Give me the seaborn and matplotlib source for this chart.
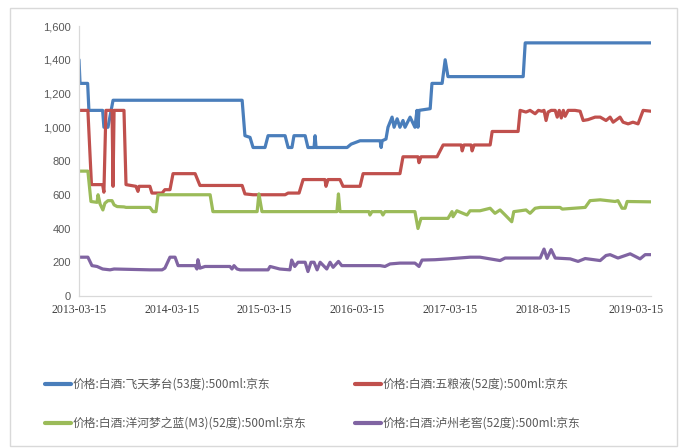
import matplotlib
matplotlib.use("Agg")
import matplotlib.pyplot as plt
import matplotlib.patches as mpatches
import seaborn as sns
import pandas as pd

# ---- data ----
maotai_dates = ["2013-03-15","2013-03-19","2013-04-18","2013-04-23","2013-06-16","2013-06-21","2013-07-07",
    "2013-07-27","2014-12-17","2014-12-28","2015-01-17","2015-01-29","2015-03-17","2015-03-29","2015-06-04",
    "2015-06-16","2015-07-01","2015-07-09","2015-08-22","2015-09-02","2015-09-26","2015-09-30","2015-10-04",
    "2016-02-03","2016-02-19","2016-03-25","2016-06-12","2016-06-16","2016-06-20","2016-07-05","2016-07-13",
    "2016-07-29","2016-08-06","2016-08-18","2016-08-29","2016-09-10","2016-09-18","2016-10-08","2016-10-27",
    "2016-11-04","2016-11-08","2016-11-12","2016-12-26","2017-01-02","2017-02-11","2017-02-23","2017-03-06",
    "2017-12-27","2018-01-04","2019-05-14"]
maotai_vals = [1400,1260,1260,1100,1100,1000,1000,
    1160,1160,950,940,880,880,950,950,
    880,880,950,950,880,880,950,880,
    880,900,920,920,880,920,930,1000,
    1060,1000,1050,1000,1040,1000,1060,1000,
    1100,1000,1100,1110,1260,1260,1400,1300,
    1300,1500,1500]

wuliangye_dates = ["2013-03-15","2013-04-19","2013-05-03","2013-06-16","2013-06-21","2013-06-29","2013-07-23",
    "2013-07-27","2013-07-31","2013-09-08","2013-09-16","2013-10-25","2013-11-02","2013-11-06","2013-12-19",
    "2013-12-27","2014-02-05","2014-02-16","2014-03-08","2014-03-20","2014-06-15","2014-07-04","2014-12-17",
    "2014-12-28","2015-01-29","2015-06-04","2015-06-16","2015-07-29","2015-08-14","2015-11-08","2015-11-12",
    "2015-11-20","2016-01-06","2016-01-18","2016-03-25","2016-04-06","2016-08-29","2016-09-10","2016-11-08",
    "2016-11-12","2016-11-20","2017-01-22","2017-02-15","2017-04-27","2017-05-01","2017-05-08","2017-06-05",
    "2017-06-09","2017-06-17","2017-08-19","2017-08-27","2017-12-07","2017-12-15","2018-01-07","2018-01-23",
    "2018-02-12","2018-02-25","2018-03-10","2018-03-19","2018-03-27","2018-04-04","2018-04-16","2018-05-02",
    "2018-05-10","2018-05-18","2018-05-26","2018-06-03","2018-06-10","2018-06-22","2018-07-19","2018-08-08",
    "2018-08-20","2018-09-08","2018-10-06","2018-10-26","2018-11-18","2018-12-04","2018-12-16","2019-01-12",
    "2019-01-24","2019-02-13","2019-03-04","2019-03-24","2019-04-13","2019-05-14"]
wuliangye_vals = [1100,1100,660,660,615,1100,1100,
    650,1100,1100,660,650,620,650,650,
    610,610,630,630,725,725,655,655,
    605,600,600,610,610,690,690,650,
    690,690,650,650,725,725,825,825,
    790,825,825,895,895,860,895,895,
    860,895,895,975,975,1100,1090,1100,
    1080,1100,1095,1100,1040,1090,1100,1100,
    1060,1100,1055,1100,1065,1100,1100,1095,
    1040,1045,1060,1060,1040,1060,1030,1060,
    1030,1020,1030,1020,1100,1095]

yanghe_dates = ["2013-03-15","2013-04-19","2013-05-01","2013-05-25","2013-05-29","2013-06-06","2013-06-17",
    "2013-06-25","2013-07-07","2013-07-23","2013-07-31","2013-08-12","2013-09-08","2013-09-16","2013-12-19",
    "2013-12-31","2014-01-12","2014-01-20","2014-08-13","2014-08-24","2015-02-14","2015-02-21","2015-03-05",
    "2015-12-25","2015-12-31","2016-01-06","2016-04-29","2016-05-03","2016-05-11","2016-06-16","2016-06-23",
    "2016-07-01","2016-10-27","2016-11-08","2016-11-20","2017-03-06","2017-03-22","2017-03-26","2017-04-10",
    "2017-05-20","2017-06-01","2017-07-10","2017-08-19","2017-09-07","2017-09-27","2017-10-17","2017-11-12",
    "2017-11-20","2017-12-15","2018-01-07","2018-01-23","2018-02-12","2018-03-04","2018-05-21","2018-05-30",
    "2018-08-28","2018-09-16","2018-10-26","2018-12-24","2019-01-04","2019-01-20","2019-02-01","2019-02-09",
    "2019-05-14"]
yanghe_vals = [740,740,560,555,600,545,510,
    550,565,565,540,530,528,525,525,
    500,500,600,600,500,500,605,500,
    500,605,500,500,480,500,500,480,
    500,500,400,460,460,500,470,505,
    480,505,505,520,490,510,480,440,
    500,505,510,490,520,525,525,515,
    525,565,570,560,565,520,520,560,
    558]

luzhou_dates = ["2013-03-15","2013-04-19","2013-05-05","2013-05-25","2013-06-16","2013-07-15","2013-07-31",
    "2013-12-19","2014-02-05","2014-02-16","2014-03-08","2014-03-28","2014-04-09","2014-06-15","2014-06-22",
    "2014-06-26","2014-07-04","2014-07-24","2014-10-30","2014-11-07","2014-11-15","2014-11-27","2014-12-09",
    "2015-03-29","2015-04-06","2015-05-14","2015-06-23","2015-06-30","2015-07-12","2015-07-25","2015-08-22",
    "2015-09-02","2015-09-14","2015-09-26","2015-10-08","2015-10-20","2015-11-15","2015-11-28","2015-12-10",
    "2015-12-31","2016-01-13","2016-06-12","2016-07-01","2016-07-21","2016-08-29","2016-10-27","2016-11-12",
    "2016-11-24","2017-01-14","2017-03-06","2017-06-01","2017-07-10","2017-09-27","2017-10-17","2018-03-04",
    "2018-03-19","2018-03-31","2018-04-16","2018-05-02","2018-06-30","2018-07-31","2018-08-28","2018-10-26",
    "2018-11-18","2018-12-04","2019-01-04","2019-02-21","2019-04-01","2019-04-21","2019-05-14"]
luzhou_vals = [230,230,180,175,160,155,160,
    155,155,165,230,230,180,180,160,
    215,165,175,175,160,180,160,155,
    155,175,160,155,213,175,200,200,
    145,200,200,155,200,160,200,170,
    205,180,180,175,190,195,195,175,
    213,215,220,230,230,210,225,225,
    278,223,275,225,220,205,222,210,
    240,245,225,250,220,245,245]

series_names = ["价格:白酒:飞天茅台(53度):500ml:京东",
                "价格:白酒:五粮液(52度):500ml:京东",
                "价格:白酒:洋河梦之蓝(M3)(52度):500ml:京东",
                "价格:白酒:泸州老窖(52度):500ml:京东"]
colors = ["#4A7EBB", "#C0504D", "#9BBB59", "#8064A2"]
x_ticks = ["2013-03-15","2014-03-15","2015-03-15","2016-03-15","2017-03-15","2018-03-15","2019-03-15"]
y_ticks = [0, 200, 400, 600, 800, 1000, 1200, 1400, 1600]

frames = []
for name, d, v in zip(series_names,
                      [maotai_dates, wuliangye_dates, yanghe_dates, luzhou_dates],
                      [maotai_vals, wuliangye_vals, yanghe_vals, luzhou_vals]):
    frames.append(pd.DataFrame({"date": pd.to_datetime(d), "value": v, "series": name}))
df = pd.concat(frames, ignore_index=True)

sns.set_theme(style="white")
plt.rcParams['font.family'] = ['Noto Sans CJK SC', 'DejaVu Sans']

fig = plt.figure(figsize=(6.83, 4.48), dpi=100)
ax = fig.add_axes([79/683, 1-296/448, (651-79)/683, (296-26)/448])

sns.lineplot(data=df, x="date", y="value", hue="series", hue_order=series_names,
             palette=colors, linewidth=2.3, legend=False, ax=ax, estimator=None)

ax.set_xlim(pd.Timestamp("2013-03-15"), pd.Timestamp("2019-05-14"))
ax.set_ylim(0, 1600)
ax.set_xticks(pd.to_datetime(x_ticks))
ax.set_xticklabels(x_ticks, fontfamily="Liberation Serif", fontsize=8.5, color="#404040")
ax.set_yticks(y_ticks)
ax.set_yticklabels([f"{t:,}" for t in y_ticks], fontfamily="Liberation Sans", fontsize=8, color="#595959")
ax.set_xlabel("")
ax.set_ylabel("")
for s in ["top", "right"]:
    ax.spines[s].set_visible(False)
for s in ["left", "bottom"]:
    ax.spines[s].set_color("#D9D9D9")
    ax.spines[s].set_linewidth(0.9)
ax.tick_params(axis="x", direction="out", length=4, color="#D9D9D9", width=0.9, pad=2)
ax.tick_params(axis="y", direction="out", length=3, color="#D9D9D9", width=0.9, pad=3)
ax.grid(False)

# outer frame
fig.patches.append(mpatches.Rectangle((10/683, 2/448), 667/683, 438/448, transform=fig.transFigure,
                                      fill=False, edgecolor="#D9D9D9", linewidth=1.0))

lines = ax.get_lines()
handles = {n: l for n, l in zip(series_names, lines)}
for names, xpos in [([series_names[0], series_names[2]], 45/683), ([series_names[1], series_names[3]], 355/683)]:
    hs = [plt.Line2D([], [], color=handles[n].get_color(), linewidth=3) for n in names]
    leg = fig.legend(hs, names, loc="upper left", bbox_to_anchor=(xpos, 1-378/448), frameon=False,
                     fontsize=8.5, handlelength=2.2, handletextpad=0.15, labelspacing=2.2, borderpad=0,
                     borderaxespad=0)
    for t in leg.get_texts():
        t.set_color("#595959")

fig.savefig("out.png", dpi=100)
